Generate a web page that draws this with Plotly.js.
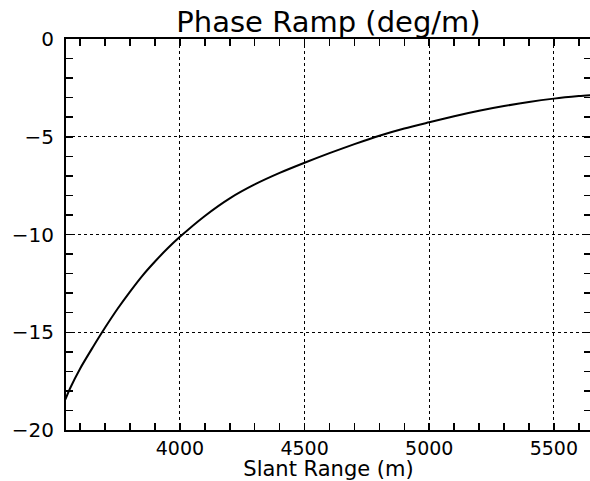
<!DOCTYPE html>
<html>
<head>
<meta charset="utf-8">
<script src="https://cdn.plot.ly/plotly-3.0.1.min.js"></script>
<style>
html,body{margin:0;padding:0;overflow:hidden;background:#fff;}
#chart{width:591px;height:481px;}
</style>
</head>
<body>
<div id="chart"></div>
<script>
// Values
const slantRange = [3540, 3560, 3600, 3650, 3700, 3750, 3800, 3850, 3900, 3950, 4000,
                    4100, 4200, 4300, 4400, 4500, 4600, 4700, 4800, 4900, 5000,
                    5100, 5200, 5300, 5400, 5500, 5600, 5648];
const phaseRamp  = [-18.45, -17.85, -16.85, -15.78, -14.76, -13.8, -12.92, -12.1, -11.38, -10.72, -10.12,
                    -9.05, -8.15, -7.44, -6.85, -6.33, -5.84, -5.38, -4.95, -4.58, -4.26,
                    -3.95, -3.67, -3.43, -3.22, -3.05, -2.92, -2.87];
const xTickVals = [4000, 4500, 5000, 5500];
const yTickVals = [0, -5, -10, -15, -20];
const yTickText = ['0', '\u22125', '\u221210', '\u221215', '\u221220'];

const font = 'DejaVu Sans, Liberation Sans, sans-serif';

const trace = {
  x: slantRange,
  y: phaseRamp,
  type: 'scatter',
  mode: 'lines',
  line: {color: '#000', width: 2, shape: 'spline', smoothing: 0.8},
  hoverinfo: 'skip'
};

const layout = {
  width: 591,
  height: 481,
  margin: {l: 66, r: 0, t: 39, b: 51},
  paper_bgcolor: '#fff',
  plot_bgcolor: '#fff',
  showlegend: false,
  title: {
    text: 'Phase Ramp (deg/m)',
    font: {family: font, size: 29, color: '#000'},
    x: 0.5, xref: 'paper',
    y: 1 - 22/481, yref: 'container', yanchor: 'middle'
  },
  xaxis: {
    range: [3543, 5649],
    tickmode: 'array',
    tickvals: xTickVals,
    ticktext: xTickVals.map(String),
    ticks: 'inside', ticklen: 7, tickwidth: 1.5, tickcolor: '#000',
    minor: {dtick: 100, tick0: 0, ticks: 'inside', ticklen: 7, tickwidth: 1.5, tickcolor: '#000', showgrid: false},
    showline: true, linecolor: '#000', linewidth: 2, mirror: 'ticks',
    showgrid: true, gridcolor: '#000', gridwidth: 1, griddash: 'dot',
    zeroline: false,
    tickfont: {family: font, size: 19, color: '#000'},
    title: {text: 'Slant Range (m)', font: {family: font, size: 21, color: '#000'}, standoff: 0}
  },
  yaxis: {
    range: [-20, 0],
    tickmode: 'array',
    tickvals: yTickVals,
    ticktext: yTickText,
    ticks: 'inside', ticklen: 7, tickwidth: 1.5, tickcolor: '#000',
    minor: {dtick: 1, tick0: 0, ticks: 'inside', ticklen: 7, tickwidth: 1.5, tickcolor: '#000', showgrid: false},
    showline: true, linecolor: '#000', linewidth: 2, mirror: 'ticks',
    showgrid: true, gridcolor: '#000', gridwidth: 1, griddash: 'dot',
    zeroline: false,
    ticklabelstandoff: 6,
    tickfont: {family: font, size: 20, color: '#000'}
  }
};

Plotly.newPlot('chart', [trace], layout, {displayModeBar: false, staticPlot: true});
</script>
</body>
</html>
